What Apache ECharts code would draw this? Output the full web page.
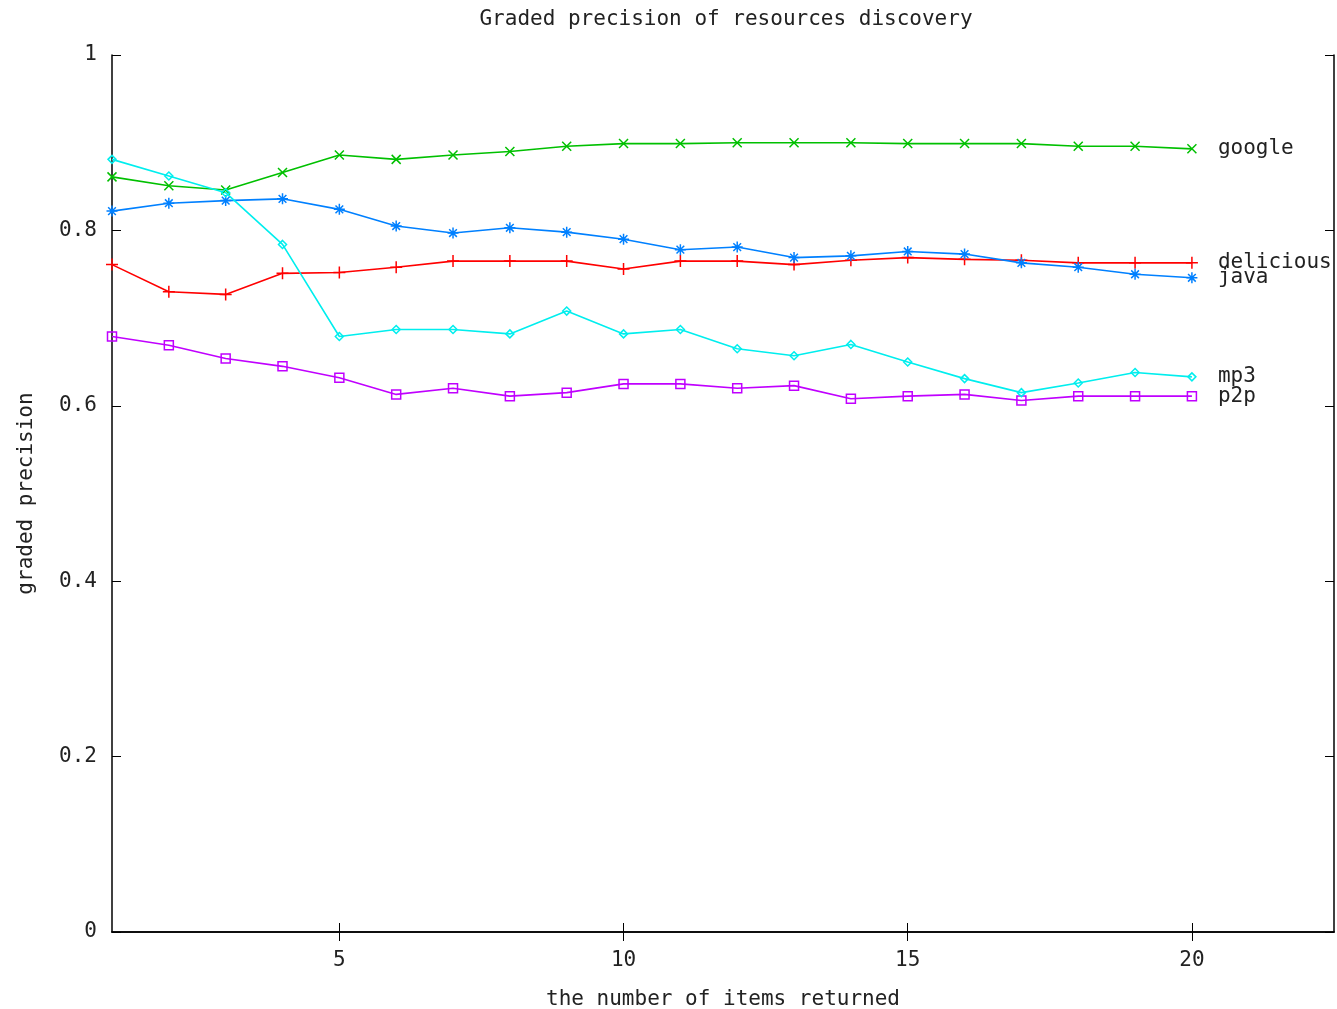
<!DOCTYPE html>
<html>
<head>
<meta charset="utf-8">
<title>Graded precision of resources discovery</title>
<script src="https://cdn.jsdelivr.net/npm/echarts@6/dist/echarts.min.js"></script>
<style>
  html, body { margin: 0; padding: 0; background: #fff; }
  #main { width: 1337px; height: 1009px; }
</style>
</head>
<body>
<div id="main"></div>
<script>
// number of items returned
const itemsReturned = [1, 2, 3, 4, 5, 6, 7, 8, 9, 10, 11, 12, 13, 14, 15, 16, 17, 18, 19, 20];

// graded precision per tag
const delicious = [0.761, 0.730, 0.727, 0.751, 0.752, 0.758, 0.765, 0.765, 0.765, 0.756,
  0.765, 0.765, 0.761, 0.766, 0.769, 0.767, 0.766, 0.763, 0.763, 0.763];
const google = [0.861, 0.851, 0.846, 0.866, 0.886, 0.881, 0.886, 0.890, 0.896, 0.899,
  0.899, 0.900, 0.900, 0.900, 0.899, 0.899, 0.899, 0.896, 0.896, 0.893];
const java = [0.822, 0.831, 0.834, 0.836, 0.824, 0.805, 0.797, 0.803, 0.798, 0.790,
  0.778, 0.781, 0.769, 0.771, 0.776, 0.773, 0.763, 0.758, 0.750, 0.746];
const p2p = [0.679, 0.669, 0.654, 0.645, 0.632, 0.613, 0.620, 0.611, 0.615, 0.625,
  0.625, 0.620, 0.623, 0.608, 0.611, 0.613, 0.606, 0.611, 0.611, 0.611];
const mp3 = [0.881, 0.862, 0.843, 0.784, 0.679, 0.687, 0.687, 0.682, 0.708, 0.682,
  0.687, 0.665, 0.657, 0.670, 0.650, 0.631, 0.615, 0.626, 0.638, 0.633];

const xTicks = [5, 10, 15, 20];

const FONT = 'DejaVu Sans Mono';
const TXT = '#222';

// gnuplot style point markers
const marks = {
  plus: 'path://M0,-1V1M-1,0H1',
  cross: 'path://M-1,-1L1,1M-1,1L1,-1',
  star: 'path://M0,-1V1M-1,0H1M-0.7,-0.7L0.7,0.7M-0.7,0.7L0.7,-0.7',
  box: 'path://M-1,-1H1V1H-1Z',
  diamond: 'path://M0,-1L1,0L0,1L-1,0Z'
};

const pairs = (ys) => itemsReturned.map((x, i) => [x, ys[i]]);

const makeSeries = (name, ys, color, symbol, size) => ({
  name: name,
  type: 'line',
  data: pairs(ys),
  symbol: symbol,
  symbolSize: size,
  lineStyle: { color: color, width: 1.6 },
  itemStyle: { color: 'rgba(0,0,0,0)', borderColor: color, borderWidth: 1.5 },
  endLabel: {
    show: true,
    formatter: '{a}',
    distance: 26,
    color: TXT,
    fontFamily: FONT,
    fontSize: 21
  },
  emphasis: { disabled: true }
});

const axisText = { color: TXT, fontFamily: FONT, fontSize: 21 };

const chart = echarts.init(document.getElementById('main'));
chart.setOption({
  animation: false,
  backgroundColor: '#fff',
  title: {
    text: 'Graded precision of resources discovery',
    left: 721,
    textAlign: 'center',
    top: 4,
    textStyle: { color: TXT, fontFamily: FONT, fontSize: 21, fontWeight: 'normal' }
  },
  grid: { left: 112, right: 3, top: 55, bottom: 77, outerBoundsMode: 'none' },
  xAxis: [{
    type: 'value',
    min: 1,
    max: 22.5,
    name: 'the number of items returned',
    nameLocation: 'middle',
    nameGap: 57,
    nameTextStyle: axisText,
    axisLine: { lineStyle: { color: '#000', width: 1.5 } },
    axisTick: { inside: true, length: 9, customValues: xTicks, lineStyle: { color: '#000' } },
    axisLabel: Object.assign({ customValues: xTicks, margin: 18 }, axisText),
    splitLine: { show: false }
  }, {
    type: 'value',
    position: 'top',
    min: 1,
    max: 22.5,
    axisLine: { lineStyle: { color: '#000', width: 1.5 } },
    axisTick: { inside: true, length: 9, customValues: xTicks, lineStyle: { color: '#000' } },
    axisLabel: { show: false },
    splitLine: { show: false }
  }],
  yAxis: [{
    type: 'value',
    min: 0,
    max: 1,
    interval: 0.2,
    name: 'graded precision',
    nameLocation: 'middle',
    nameGap: 75,
    nameTextStyle: axisText,
    axisLine: { show: true, lineStyle: { color: '#000', width: 1.5 } },
    axisTick: { show: true, inside: true, length: 9, lineStyle: { color: '#000' } },
    axisLabel: Object.assign({ margin: 15 }, axisText),
    splitLine: { show: false }
  }, {
    type: 'value',
    position: 'right',
    min: 0,
    max: 1,
    interval: 0.2,
    axisLine: { show: true, lineStyle: { color: '#000', width: 1.5 } },
    axisTick: { show: true, inside: true, length: 9, lineStyle: { color: '#000' } },
    axisLabel: { show: false },
    splitLine: { show: false }
  }],
  series: [
    makeSeries('delicious', delicious, '#ff0000', marks.plus, 12),
    makeSeries('google', google, '#00c000', marks.cross, 9),
    makeSeries('java', java, '#0080ff', marks.star, 11),
    makeSeries('p2p', p2p, '#c000ff', marks.box, 9),
    makeSeries('mp3', mp3, '#00eeee', marks.diamond, 8)
  ]
});
</script>
</body>
</html>
